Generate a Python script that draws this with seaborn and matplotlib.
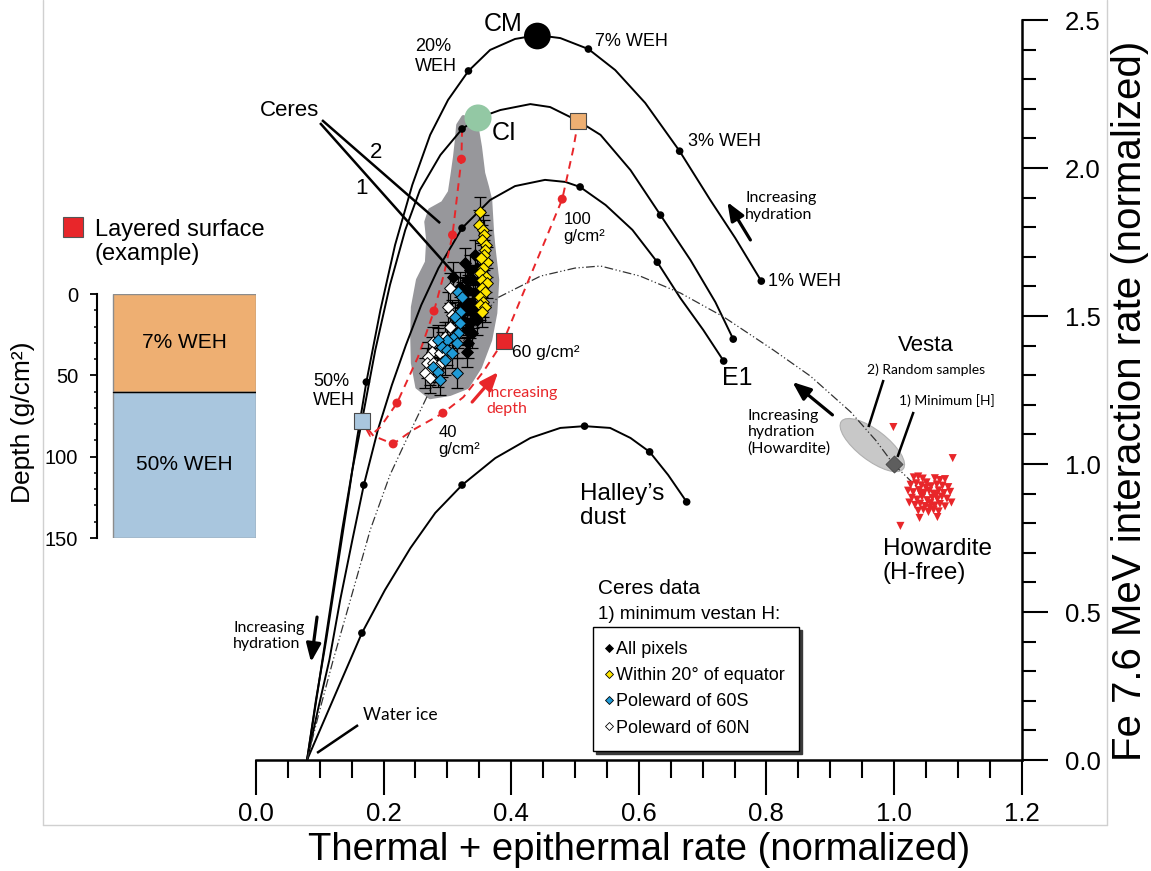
import matplotlib
matplotlib.use("Agg")
import matplotlib.pyplot as plt
from matplotlib.patches import Ellipse
from matplotlib.lines import Line2D
from matplotlib.transforms import ScaledTranslation
from matplotlib.ticker import MultipleLocator, FixedLocator, FormatStrFormatter
import seaborn as sns

# ---------------- mixing curves: water ice -> dry end-member ----------------
cm_curve_x = [0.080, 0.094, 0.110, 0.127, 0.144, 0.158, 0.173, 0.195, 0.218, 0.245, 0.273, 0.301,
              0.333, 0.367, 0.406, 0.441, 0.477, 0.521, 0.563, 0.610, 0.664, 0.712, 0.751, 0.792]
cm_curve_y = [0.000, 0.203, 0.405, 0.642, 0.878, 1.081, 1.277, 1.520, 1.740, 1.943, 2.112, 2.230,
              2.328, 2.399, 2.436, 2.449, 2.439, 2.402, 2.331, 2.220, 2.057, 1.892, 1.764, 1.618]
cm_weh_x = [0.173, 0.333, 0.521, 0.664, 0.792]
cm_weh_y = [1.277, 2.328, 2.402, 2.057, 1.618]
cm_x, cm_y = 0.441, 2.446

ci_curve_x = [0.080, 0.097, 0.116, 0.135, 0.151, 0.166, 0.187, 0.210, 0.234, 0.257, 0.289, 0.323,
              0.348, 0.383, 0.430, 0.461, 0.505, 0.540, 0.587, 0.634, 0.681, 0.720, 0.748]
ci_curve_y = [0.000, 0.237, 0.507, 0.777, 0.980, 1.145, 1.385, 1.605, 1.791, 1.926, 2.044, 2.132,
              2.169, 2.196, 2.216, 2.206, 2.159, 2.112, 1.993, 1.841, 1.689, 1.547, 1.422]
ci_weh_x = [0.323, 0.634, 0.748]
ci_weh_y = [2.132, 1.841, 1.422]
ci_x, ci_y = 0.348, 2.169

e1_curve_x = [0.080, 0.097, 0.115, 0.132, 0.151, 0.169, 0.191, 0.213, 0.235, 0.259, 0.286, 0.323,
              0.367, 0.406, 0.453, 0.485, 0.508, 0.548, 0.590, 0.629, 0.665, 0.701, 0.733]
e1_curve_y = [0.000, 0.169, 0.338, 0.541, 0.743, 0.929, 1.115, 1.267, 1.402, 1.537, 1.662, 1.797,
              1.892, 1.939, 1.960, 1.953, 1.936, 1.875, 1.791, 1.682, 1.561, 1.453, 1.348]
e1_weh_x = [0.169, 0.323, 0.508, 0.629, 0.733]
e1_weh_y = [0.929, 1.797, 1.936, 1.682, 1.348]

halley_curve_x = [0.080, 0.107, 0.132, 0.166, 0.202, 0.242, 0.281, 0.323, 0.375, 0.430, 0.477,
                  0.515, 0.555, 0.587, 0.617, 0.646, 0.675]
halley_curve_y = [0.000, 0.135, 0.260, 0.429, 0.574, 0.716, 0.835, 0.929, 1.020, 1.088, 1.122,
                  1.128, 1.122, 1.088, 1.041, 0.963, 0.872]
halley_weh_x = [0.166, 0.323, 0.515, 0.617, 0.675]
halley_weh_y = [0.429, 0.929, 1.128, 1.041, 0.872]

howardite_curve_x = [0.080, 0.100, 0.121, 0.148, 0.179, 0.210, 0.237, 0.273, 0.320, 0.378, 0.446,
                     0.500, 0.540, 0.602, 0.665, 0.733, 0.811, 0.869, 0.932, 0.971, 0.999, 1.049]
howardite_curve_y = [0.000, 0.169, 0.338, 0.541, 0.777, 0.963, 1.088, 1.250, 1.402, 1.561, 1.635,
                     1.662, 1.669, 1.635, 1.578, 1.497, 1.385, 1.297, 1.176, 1.081, 1.000, 0.895]

# ---------------- layered surface models (7% WEH over 50% WEH) ----------------
layer_a_x = [0.505, 0.497, 0.480, 0.447, 0.417, 0.388, 0.356, 0.325, 0.293, 0.246, 0.215, 0.184, 0.166]
layer_a_y = [2.159, 2.061, 1.895, 1.723, 1.568, 1.416, 1.311, 1.226, 1.172, 1.115, 1.068, 1.095, 1.145]
layer_a_dot_x = [0.480, 0.293, 0.215]
layer_a_dot_y = [1.895, 1.172, 1.068]
layer_b_x = [0.323, 0.322, 0.315, 0.308, 0.295, 0.279, 0.254, 0.221, 0.195, 0.179, 0.166]
layer_b_y = [2.132, 2.030, 1.902, 1.774, 1.645, 1.517, 1.362, 1.206, 1.125, 1.095, 1.145]
layer_b_dot_x = [0.322, 0.308, 0.279, 0.221]
layer_b_dot_y = [2.030, 1.774, 1.517, 1.206]
weh50_x, weh50_y = 0.166, 1.145
weh7_x, weh7_y = 0.505, 2.159
depth60_x, depth60_y = 0.388, 1.416

# ---------------- Ceres ----------------
cloud_x = [0.325, 0.336, 0.347, 0.351, 0.356, 0.362, 0.367, 0.370, 0.372, 0.378, 0.375, 0.367,
           0.351, 0.331, 0.304, 0.273, 0.253, 0.246, 0.245, 0.246, 0.254, 0.268, 0.270, 0.267,
           0.273, 0.293, 0.304, 0.308, 0.312, 0.315, 0.317]
cloud_y = [2.172, 2.162, 2.122, 2.071, 1.983, 1.936, 1.892, 1.780, 1.733, 1.622, 1.510, 1.419,
           1.328, 1.260, 1.237, 1.226, 1.260, 1.341, 1.429, 1.530, 1.622, 1.682, 1.757, 1.818,
           1.858, 1.882, 1.919, 1.976, 2.037, 2.095, 2.145]

all_x = [0.328, 0.336, 0.347, 0.331, 0.340, 0.351, 0.333, 0.344, 0.328, 0.339, 0.348, 0.331,
         0.340, 0.325, 0.336, 0.347, 0.331, 0.339, 0.333, 0.331, 0.309, 0.320, 0.344, 0.323]
all_y = [1.679, 1.655, 1.662, 1.622, 1.622, 1.612, 1.588, 1.578, 1.554, 1.544, 1.530, 1.520,
         1.510, 1.486, 1.476, 1.486, 1.453, 1.443, 1.409, 1.378, 1.632, 1.598, 1.706, 1.537]
equ_x = [0.351, 0.350, 0.356, 0.358, 0.355, 0.361, 0.359, 0.362, 0.356, 0.351, 0.361, 0.355,
         0.362, 0.355, 0.359, 0.351, 0.356, 0.351, 0.359, 0.355, 0.358, 0.353]
equ_y = [1.851, 1.807, 1.791, 1.774, 1.757, 1.740, 1.723, 1.682, 1.662, 1.645, 1.632, 1.622,
         1.612, 1.595, 1.581, 1.564, 1.547, 1.537, 1.530, 1.514, 1.706, 1.696]
s60_x = [0.317, 0.323, 0.320, 0.312, 0.320, 0.317, 0.309, 0.300, 0.286, 0.292, 0.300, 0.308,
         0.315, 0.278, 0.286, 0.289, 0.315, 0.297]
s60_y = [1.581, 1.564, 1.514, 1.497, 1.476, 1.443, 1.426, 1.419, 1.419, 1.395, 1.385, 1.375,
         1.409, 1.328, 1.311, 1.284, 1.307, 1.351]
n60_x = [0.304, 0.301, 0.308, 0.304, 0.297, 0.286, 0.278, 0.276, 0.270, 0.268, 0.278, 0.273,
         0.265, 0.284, 0.289, 0.292, 0.273]
n60_y = [1.595, 1.530, 1.503, 1.463, 1.429, 1.409, 1.412, 1.378, 1.362, 1.341, 1.341, 1.318,
         1.307, 1.328, 1.375, 1.345, 1.291]
ceres_err = 0.05

# ---------------- Vesta / howardites ----------------
vesta_x, vesta_y = 1.000, 1.000
random_cx, random_cy = 0.966, 1.064
how_x = [1.031, 1.038, 1.045, 1.064, 1.072, 1.080, 1.026, 1.035, 1.043, 1.051, 1.058, 1.067,
         1.076, 1.085, 1.022, 1.030, 1.039, 1.047, 1.055, 1.062, 1.070, 1.078, 1.088, 1.028,
         1.036, 1.044, 1.052, 1.060, 1.068, 1.075, 1.083, 1.033, 1.041, 1.049, 1.057, 1.064,
         1.072, 1.080, 1.038, 1.046, 1.054, 1.062, 1.070, 1.090, 1.024, 1.050, 1.066, 1.042,
         1.056, 0.999, 1.092, 1.010, 1.040, 1.068]
how_y = [0.955, 0.958, 0.951, 0.952, 0.946, 0.949, 0.930, 0.935, 0.928, 0.938, 0.925, 0.931,
         0.927, 0.922, 0.910, 0.905, 0.912, 0.903, 0.909, 0.900, 0.911, 0.902, 0.906, 0.886,
         0.880, 0.889, 0.878, 0.886, 0.881, 0.890, 0.883, 0.862, 0.866, 0.858, 0.868, 0.860,
         0.865, 0.857, 0.842, 0.846, 0.838, 0.845, 0.840, 0.870, 0.870, 0.920, 0.895, 0.898,
         0.852, 1.125, 1.020, 0.791, 0.818, 0.821]

# ---------------- layered column example ----------------
layer_top = [0, 60]
layer_bottom = [60, 150]
layer_names = ["7% WEH", "50% WEH"]
layer_colors = ["#EEAF72", "#A9C6DE"]

legend_labels = ["All pixels", "Within 20° of equator", "Poleward of 60S", "Poleward of 60N"]

RED = "#E8262A"
GRAY_CLOUD = "#97979B"

sns.set_style("white")
plt.rcParams["font.family"] = ["Liberation Sans", "DejaVu Sans"]
plt.rcParams.update({"text.color": "black", "axes.labelcolor": "black",
                     "xtick.color": "black", "ytick.color": "black",
                     "axes.edgecolor": "black"})
HUM = ["Lato", "DejaVu Sans"]

fig = plt.figure(figsize=(11.51, 8.71), dpi=100)
fig.patch.set_facecolor("white")
ax = fig.add_axes([0.2224, 0.1274, 0.6652, 0.8496])
ax.patch.set_alpha(0)

# Ceres pixel cloud
ax.fill(cloud_x, cloud_y, color=GRAY_CLOUD, lw=3, ec=GRAY_CLOUD, joinstyle="round", zorder=1)

# random-sample ellipse (fixed size in inches, centred on data point)
ell = Ellipse((0, 0), width=0.78, height=0.30, angle=-37.6,
              transform=fig.dpi_scale_trans + ScaledTranslation(random_cx, random_cy, ax.transData),
              fc="#C8C8C8", ec="#B0B0B0", lw=0.8, zorder=1.5)
ax.add_patch(ell)

# solid mixing curves
for cx, cy in [(cm_curve_x, cm_curve_y), (ci_curve_x, ci_curve_y),
               (e1_curve_x, e1_curve_y), (halley_curve_x, halley_curve_y)]:
    sns.lineplot(x=cx, y=cy, sort=False, estimator=None, color="black", lw=1.4, ax=ax,
                 legend=False, zorder=2)
sns.lineplot(x=howardite_curve_x, y=howardite_curve_y, sort=False, estimator=None,
             color="#333333", lw=0.9, linestyle=(0, (7, 2, 1, 2, 1, 2)), ax=ax, legend=False, zorder=2)

# layered-surface dashed tracks
for lx, ly in [(layer_a_x, layer_a_y), (layer_b_x, layer_b_y)]:
    sns.lineplot(x=lx, y=ly, sort=False, estimator=None, color=RED, lw=1.4,
                 linestyle=(0, (4, 3)), ax=ax, legend=False, zorder=3)
sns.scatterplot(x=layer_a_dot_x + layer_b_dot_x, y=layer_a_dot_y + layer_b_dot_y, color=RED,
                s=42, edgecolor="none", ax=ax, legend=False, zorder=6)

# WEH dots on the mixing curves
sns.scatterplot(x=cm_weh_x + ci_weh_x + e1_weh_x + halley_weh_x,
                y=cm_weh_y + ci_weh_y + e1_weh_y + halley_weh_y,
                color="black", s=30, edgecolor="none", ax=ax, legend=False, zorder=6)

# pointer lines
def pointer(p0, p1, lw=1.8):
    ax.plot([p0[0], p1[0]], [p0[1], p1[1]], color="black", lw=lw, clip_on=False,
            solid_capstyle="butt", zorder=3.5)

pointer((0.1035, 2.162), (0.2886, 1.814))
pointer((0.1004, 2.152), (0.3153, 1.632))
pointer((0.0957, 0.024), (0.160, 0.118))
pointer((0.9835, 1.284), (0.960, 1.125))
pointer((1.0306, 1.176), (1.0055, 1.024))

# Ceres data with error bars
ax.errorbar(all_x + n60_x + s60_x + equ_x, all_y + n60_y + s60_y + equ_y, yerr=ceres_err,
            fmt="none", ecolor="black", elinewidth=0.9, capsize=4, capthick=0.9, zorder=4)
for gx, gy, col in [(all_x, all_y, "black"), (n60_x, n60_y, "white"),
                    (s60_x, s60_y, "#1F9AD6"), (equ_x, equ_y, "#FFE600")]:
    sns.scatterplot(x=gx, y=gy, marker="D", s=36, color=col, edgecolor="black", linewidth=0.7,
                    ax=ax, legend=False, zorder=5)

# end-member markers and squares
sns.scatterplot(x=[cm_x], y=[cm_y], s=370, color="black", edgecolor="none", ax=ax,
                legend=False, zorder=7, clip_on=False)
sns.scatterplot(x=[ci_x], y=[ci_y], s=380, color="#93C8A4", edgecolor="none", ax=ax,
                legend=False, zorder=7)
for sx, sy, col in [(weh50_x, weh50_y, "#A9C6DE"), (weh7_x, weh7_y, "#EEAF72"),
                    (depth60_x, depth60_y, RED)]:
    sns.scatterplot(x=[sx], y=[sy], marker="s", s=120, color=col, edgecolor="#4A4A4A",
                    linewidth=0.8, ax=ax, legend=False, zorder=7)

# howardites and Vesta
sns.scatterplot(x=how_x, y=how_y, marker="v", s=34, color=RED, edgecolor="none", ax=ax,
                legend=False, zorder=5)
sns.scatterplot(x=[vesta_x], y=[vesta_y], marker="D", s=75, color="#5E5E5E", edgecolor="#444444",
                linewidth=0.6, ax=ax, legend=False, zorder=6)

# arrows
def arrow(tail, head, color="black", lw=2.3):
    ax.annotate("", xy=head, xytext=tail, zorder=8,
                arrowprops=dict(arrowstyle="-|>,head_length=0.55,head_width=0.22", lw=lw,
                                color=color, shrinkA=0, shrinkB=0, mutation_scale=20))

arrow((0.7749, 1.757), (0.7388, 1.885))
arrow((0.9035, 1.166), (0.8408, 1.277))
arrow((0.3388, 1.2095), (0.3796, 1.3108), color=RED)
arrow((0.0957, 0.483), (0.0863, 0.331))

# labels
ax.text(0.3875, 2.487, "CM", fontsize=18, ha="center", va="center")
ax.text(0.3702, 2.118, "CI", fontsize=18, ha="left", va="center")
ax.text(0.2494, 2.377, "20%\nWEH", fontsize=13, ha="left", va="center", linespacing=1.2)
ax.text(0.5318, 2.426, "7% WEH", fontsize=13, ha="left", va="center")
ax.text(0.6776, 2.088, "3% WEH", fontsize=13, ha="left", va="center")
ax.text(0.8031, 1.618, "1% WEH", fontsize=13, ha="left", va="center")
ax.text(0.0894, 1.247, "50%\nWEH", fontsize=13, ha="left", va="center", linespacing=1.2)
ax.text(0.4816, 1.797, "100\ng/cm²", fontsize=12, ha="left", va="center", linespacing=1.2)
ax.text(0.4016, 1.378, "60 g/cm²", fontsize=12.5, ha="left", va="center")
ax.text(0.2855, 1.078, "40\ng/cm²", fontsize=12, ha="left", va="center", linespacing=1.2)
ax.text(0.731, 1.290, "E1", fontsize=18, ha="left", va="center")
ax.text(0.5082, 0.858, "Halley’s\ndust", fontsize=17.5, ha="left", va="center", linespacing=1.1)
ax.text(0.982, 0.672, "Howardite\n(H-free)", fontsize=17.5, ha="left", va="center", linespacing=1.1)
ax.text(1.0055, 1.399, "Vesta", fontsize=16, ha="left", va="center")
ax.text(0.9584, 1.318, "2) Random samples", fontsize=10, ha="left", va="center", family=HUM)
ax.text(1.0071, 1.216, "1) Minimum [H]", fontsize=10, ha="left", va="center", family=HUM)
ax.text(0.0533, 2.196, "Ceres", fontsize=16, ha="center", va="center")
ax.text(0.1882, 2.054, "2", fontsize=16, ha="center", va="center")
ax.text(0.1647, 1.932, "1", fontsize=16, ha="center", va="center")
ax.text(0.767, 1.870, "Increasing\nhydration", fontsize=11.5, ha="left", va="center", family=HUM)
ax.text(0.7702, 1.108, "Increasing\nhydration\n(Howardite)", fontsize=11.5, ha="left",
        va="center", family=HUM)
ax.text(0.3608, 1.212, "Increasing\ndepth", fontsize=11.5, ha="left", va="center",
        color=RED, family=HUM)
ax.text(-0.036, 0.419, "Increasing\nhydration", fontsize=11.5, ha="left", va="center", family=HUM)
ax.text(0.1678, 0.152, "Water ice", fontsize=12.5, ha="left", va="center", family=HUM)
ax.text(0.5365, 0.581, "Ceres data", fontsize=15, ha="left", va="center")
ax.text(0.5365, 0.490, "1) minimum vestan H:", fontsize=13.5, ha="left", va="center")

# legend for Ceres subsets
handles = [Line2D([], [], ls="none", marker="D", ms=4.5, mfc=c, mec="black", mew=0.6)
           for c in ["black", "#FFE600", "#1F9AD6", "white"]]
leg = ax.legend(handles, legend_labels, loc="upper left",
                bbox_to_anchor=(593 / 1151, (871 - 627) / 871), bbox_transform=fig.transFigure,
                borderaxespad=0, frameon=True, fancybox=False, edgecolor="black",
                shadow={"facecolor": "#3A3A3A", "edgecolor": "#3A3A3A", "alpha": 1.0},
                fontsize=13, handlelength=0.15, handletextpad=0.3, borderpad=0.8,
                labelspacing=0.5)
leg.get_frame().set_linewidth(1.0)
leg.set_zorder(9)

# axes styling
ax.set_xlim(0, 1.2)
ax.set_ylim(0, 2.5)
ax.spines["top"].set_visible(False)
ax.spines["left"].set_visible(False)
for side in ["bottom", "right"]:
    ax.spines[side].set_linewidth(1.8)
    ax.spines[side].set_color("black")
ax.xaxis.set_major_locator(MultipleLocator(0.2))
ax.xaxis.set_minor_locator(MultipleLocator(0.05))
ax.yaxis.set_major_locator(MultipleLocator(0.5))
ax.yaxis.set_minor_locator(MultipleLocator(0.1))
ax.xaxis.set_major_formatter(FormatStrFormatter("%.1f"))
ax.yaxis.set_major_formatter(FormatStrFormatter("%.1f"))
ax.yaxis.tick_right()
ax.yaxis.set_label_position("right")
ax.tick_params(axis="x", which="major", direction="out", length=25, width=1.5, pad=5,
               labelsize=18.5, bottom=True, top=False)
ax.tick_params(axis="x", which="minor", direction="out", length=13, width=1.5,
               bottom=True, top=False)
ax.tick_params(axis="y", which="major", direction="out", length=19, width=1.5, pad=12,
               labelsize=18.5, left=False, right=True)
ax.tick_params(axis="y", which="minor", direction="out", length=10, width=1.5,
               left=False, right=True)
ax.set_xlabel("Thermal + epithermal rate (normalized)", fontsize=27.5)
ax.xaxis.set_label_coords(0.5003, -0.1216)
ax.xaxis.label.set_va("center")
ax.set_ylabel("Fe 7.6 MeV interaction rate (normalized)", fontsize=29)
ax.yaxis.set_label_coords(1.1416, 0.486)
ax.yaxis.label.set_va("center")
ax.yaxis.label.set_rotation(90)

# layered column inset
ax_in = fig.add_axes([97 / 1151, (871 - 538) / 871, 159 / 1151, 244 / 871])
ax_in.patch.set_alpha(0)
ax_in.bar(x=[0.55, 0.55], height=[b - t for t, b in zip(layer_top, layer_bottom)],
          bottom=layer_top, width=0.9, color=layer_colors, edgecolor="#8C8C8C", lw=1)
ax_in.plot([0.1, 1.0], [layer_bottom[0], layer_bottom[0]], color="black", lw=1)
for t, b, name in zip(layer_top, layer_bottom, layer_names):
    ax_in.text(0.55, (t + b) / 2, name, fontsize=15, ha="center", va="center")
ax_in.set_xlim(0, 1)
ax_in.set_ylim(150, 0)
for side in ["top", "right", "bottom"]:
    ax_in.spines[side].set_visible(False)
ax_in.spines["left"].set_linewidth(1.5)
ax_in.spines["left"].set_color("black")
ax_in.set_xticks([])
ax_in.yaxis.set_major_locator(FixedLocator([0, 50, 100, 150]))
ax_in.yaxis.set_minor_locator(MultipleLocator(10))
ax_in.tick_params(axis="y", which="major", direction="out", length=5, width=1.3, pad=8.5,
                  labelsize=14.5, left=True)
ax_in.tick_params(axis="y", which="minor", direction="out", length=2.5, width=1.1, left=True)
ax_in.set_ylabel("Depth (g/cm²)", fontsize=19)
ax_in.yaxis.set_label_coords(-0.465, 0.475)
ax_in.yaxis.label.set_va("center")

# layered surface key
fig.add_artist(Line2D([72.5 / 1151], [(871 - 227) / 871], transform=fig.transFigure, ls="none",
                      marker="s", ms=15, mfc=RED, mec="#555555", mew=0.8))
fig.text(95 / 1151, (871 - 242) / 871, "Layered surface\n(example)", fontsize=17,
         ha="left", va="center", linespacing=1.15)

# light frame
for xs, ys in [([43, 43], [825, 0]), ([1107, 1107], [825, 0]), ([43, 1107], [825, 825])]:
    fig.add_artist(Line2D([x / 1151 for x in xs], [(871 - y) / 871 for y in ys],
                          transform=fig.transFigure, color="#D0D0D0", lw=1))

fig.savefig("out.png", dpi=100)
